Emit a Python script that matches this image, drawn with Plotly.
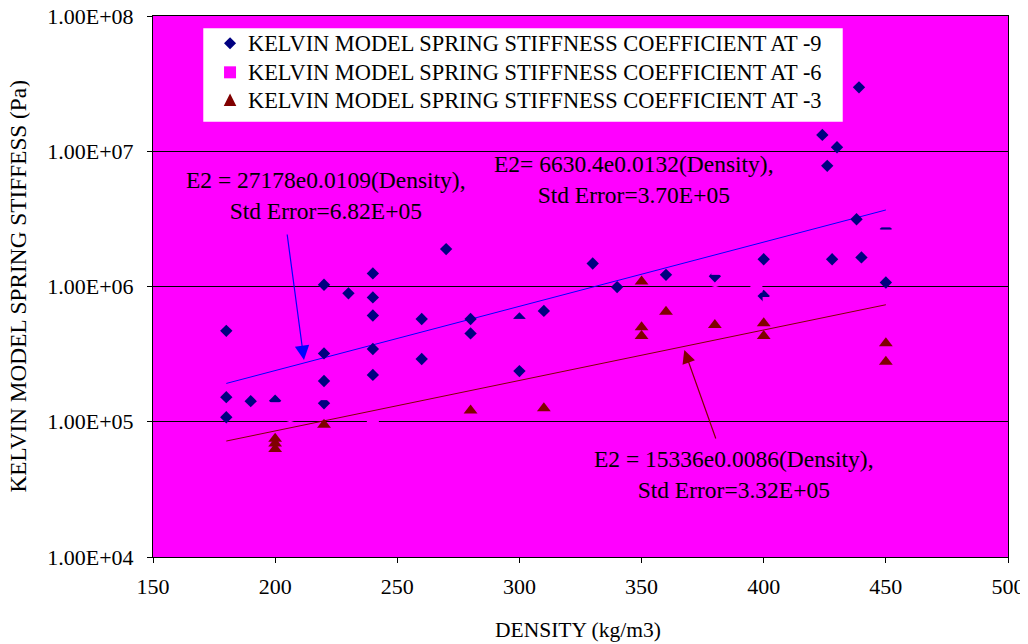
import plotly.graph_objects as go

# ---------------- data ----------------
# -9 series (blue diamonds)
x_m9 = [180, 180, 180, 190, 200, 220, 220, 220, 220, 230, 240, 240, 240, 240, 240,
        260, 260, 270, 280, 280, 300, 300, 310, 330, 340, 360, 380, 400, 400,
        424, 426, 430, 428, 438, 439, 440, 450, 450]
y_m9 = [4.7e5, 1.52e5, 1.08e5, 1.42e5, 1.43e5, 1.03e6, 3.2e5, 2.0e5, 1.37e5, 8.9e5,
        1.25e6, 8.3e5, 6.1e5, 3.45e5, 2.22e5, 5.75e5, 2.91e5, 1.89e6, 5.75e5, 4.5e5,
        5.8e5, 2.37e5, 6.6e5, 1.48e6, 9.9e5, 1.22e6, 1.19e6, 1.59e6, 8.5e5,
        1.32e7, 7.8e6, 1.07e7, 1.59e6, 3.14e6, 2.97e7, 1.64e6, 2.66e6, 1.07e6]

# -6 series (magenta squares, same colour as the plot background)
x_m6 = [200, 220, 240, 300, 381, 397, 402, 450, 450]
y_m6 = [1.26e5, 1.6e5, 1.0e5, 5.2e5, 1.35e6, 1.0e6, 7.55e5, 3.03e6, 2.38e6]

# -3 series (dark red triangles)
x_m3 = [200, 200, 200, 220, 280, 310, 350, 350, 350, 360, 380, 400, 400, 450, 450]
y_m3 = [7.5e4, 6.9e4, 6.3e4, 9.5e4, 1.21e5, 1.26e5, 1.09e6, 5.0e5, 4.3e5, 6.5e5,
        5.2e5, 5.35e5, 4.3e5, 3.8e5, 2.78e5]

# exponential trend lines (straight on the log axis), end points
trend_x = [180, 450]
trend_m9 = [1.92e5, 3.68e6]
trend_m6 = [7.1e4, 2.52e6]
trend_m3 = [7.2e4, 7.33e5]

series_names = ["KELVIN MODEL SPRING STIFFNESS COEFFICIENT AT -9",
                "KELVIN MODEL SPRING STIFFNESS COEFFICIENT AT -6",
                "KELVIN MODEL SPRING STIFFNESS COEFFICIENT AT -3"]

y_tickvals = [1e4, 1e5, 1e6, 1e7, 1e8]
y_ticktext = ["1.00E+04", "1.00E+05", "1.00E+06", "1.00E+07", "1.00E+08"]
x_tickvals = [150, 200, 250, 300, 350, 400, 450, 500]

FONT = "Liberation Serif, Times New Roman, serif"
MAG = "#FF00FF"
NAVY = "#000080"
MAROON = "#800000"

# plot-area size in pixels (used to turn pixel offsets into paper units)
PW, PH = 855, 541

fig = go.Figure()

# trend lines (below markers)
fig.add_trace(go.Scatter(x=trend_x, y=trend_m9, mode="lines",
                         line=dict(color="#0000FF", width=1), showlegend=False, hoverinfo="skip"))
fig.add_trace(go.Scatter(x=trend_x, y=trend_m6, mode="lines",
                         line=dict(color=MAG, width=1.5), showlegend=False, hoverinfo="skip"))
fig.add_trace(go.Scatter(x=trend_x, y=trend_m3, mode="lines",
                         line=dict(color=MAROON, width=1), showlegend=False, hoverinfo="skip"))

fig.add_trace(go.Scatter(x=x_m9, y=y_m9, mode="markers", name=series_names[0], showlegend=False,
                         marker=dict(symbol="diamond", size=9.5, color=NAVY)))
fig.add_trace(go.Scatter(x=x_m6, y=y_m6, mode="markers", name=series_names[1], showlegend=False,
                         marker=dict(symbol="square", size=12, color=MAG)))
fig.add_trace(go.Scatter(x=x_m3, y=y_m3, mode="markers", name=series_names[2], showlegend=False,
                         marker=dict(symbol="triangle-up", size=12, color=MAROON)))

# ---------------- legend box (drawn by hand to match the row spacing) ----------------
fig.add_shape(type="rect", xref="paper", yref="paper", x0=0.0588, x1=0.8067, y0=0.8046, y1=0.9773,
              fillcolor="white", line=dict(width=0), layer="above")


def sym_path(cx, cy, pts):
    """pts are pixel offsets (dx, dy-down) around a paper-coordinate centre."""
    s = ""
    for i, (dx, dy) in enumerate(pts):
        s += ("M" if i == 0 else "L") + f"{cx + dx / PW:.5f},{cy - dy / PH:.5f}"
    return s + "Z"


leg_x = 0.0901
leg_rows = [0.9495, 0.8959, 0.8447]
leg_syms = [
    ([(0, -6), (6, 0), (0, 6), (-6, 0)], NAVY),
    ([(-6, -6), (6, -6), (6, 6), (-6, 6)], MAG),
    ([(0, -6.5), (6.3, 6), (-6.3, 6)], MAROON),
]
for ry, (pts, col), name in zip(leg_rows, leg_syms, series_names):
    fig.add_shape(type="path", xref="paper", yref="paper", path=sym_path(leg_x, ry, pts),
                  fillcolor=col, line=dict(width=0), layer="above")
    fig.add_annotation(xref="paper", yref="paper", x=0.1088, y=ry, xanchor="left", yanchor="middle",
                       text=name, showarrow=False,
                       font=dict(family=FONT, size=22.4, color="#000000"))

# ---------------- equation labels ----------------
ann_font = dict(family=FONT, size=23.5, color="#000000")
for (ax_, ay_, txt) in [
    (0.2023, 0.669, "E2 = 27178e0.0109(Density),<br>Std Error=6.82E+05"),
    (0.5626, 0.697, "E2= 6630.4e0.0132(Density),<br>Std Error=3.70E+05"),
    (0.6795, 0.1534, "E2 = 15336e0.0086(Density),<br>Std Error=3.32E+05"),
]:
    fig.add_annotation(xref="paper", yref="paper", x=ax_, y=ay_, xanchor="center", yanchor="middle",
                       text=txt, showarrow=False, font=ann_font, align="center")

# arrows
fig.add_annotation(x=211.8, y=5.4566, xref="x", yref="y", text="",
                   showarrow=True, ax=-17, ay=-127, arrowcolor="#0000FF",
                   arrowhead=2, arrowsize=2.4, arrowwidth=1.2, standoff=0, startstandoff=0)
fig.add_annotation(x=367.5, y=5.5305, xref="x", yref="y", text="",
                   showarrow=True, ax=32, ay=90, arrowcolor=MAROON,
                   arrowhead=2, arrowsize=2.2, arrowwidth=1.2, standoff=0, startstandoff=0)

# axis titles
fig.add_annotation(xref="paper", yref="paper", x=-0.159, y=0.5, xanchor="center", yanchor="middle",
                   text="KELVIN MODEL SPRING STIFFESS (Pa)", textangle=-90, showarrow=False,
                   height=24, borderpad=0,
                   font=dict(family=FONT, size=23.3, color="#000000"))
fig.add_annotation(xref="paper", yref="paper", x=0.497, y=-0.1349, xanchor="center", yanchor="middle",
                   text="DENSITY (kg/m3)", showarrow=False,
                   font=dict(family=FONT, size=21.5, color="#000000"))

# the page has an 8px body margin, so the figure is made 8px smaller than the window
fig.update_layout(
    width=1020, height=636,
    margin=dict(l=145, r=20, t=8, b=87, autoexpand=False),
    paper_bgcolor="white", plot_bgcolor=MAG,
    font=dict(family=FONT, size=22, color="#000000"),
    showlegend=False,
    xaxis=dict(range=[150, 500], tickvals=x_tickvals, showgrid=False, zeroline=False,
               automargin=False, ticklabeloverflow="allow",
               showline=True, linecolor="#000000", linewidth=1, mirror=True,
               ticks="outside", ticklen=5, tickcolor="#000000", ticklabelstandoff=5,
               tickfont=dict(family=FONT, size=22)),
    yaxis=dict(type="log", range=[4, 8], tickvals=y_tickvals, ticktext=y_ticktext,
               automargin=False, ticklabeloverflow="allow",
               showgrid=True, gridcolor="#000000", gridwidth=1, zeroline=False,
               showline=True, linecolor="#000000", linewidth=1, mirror=True,
               ticks="outside", ticklen=5, tickcolor="#000000", ticklabelstandoff=9,
               tickfont=dict(family=FONT, size=22)),
)

fig.write_html("out.html")
